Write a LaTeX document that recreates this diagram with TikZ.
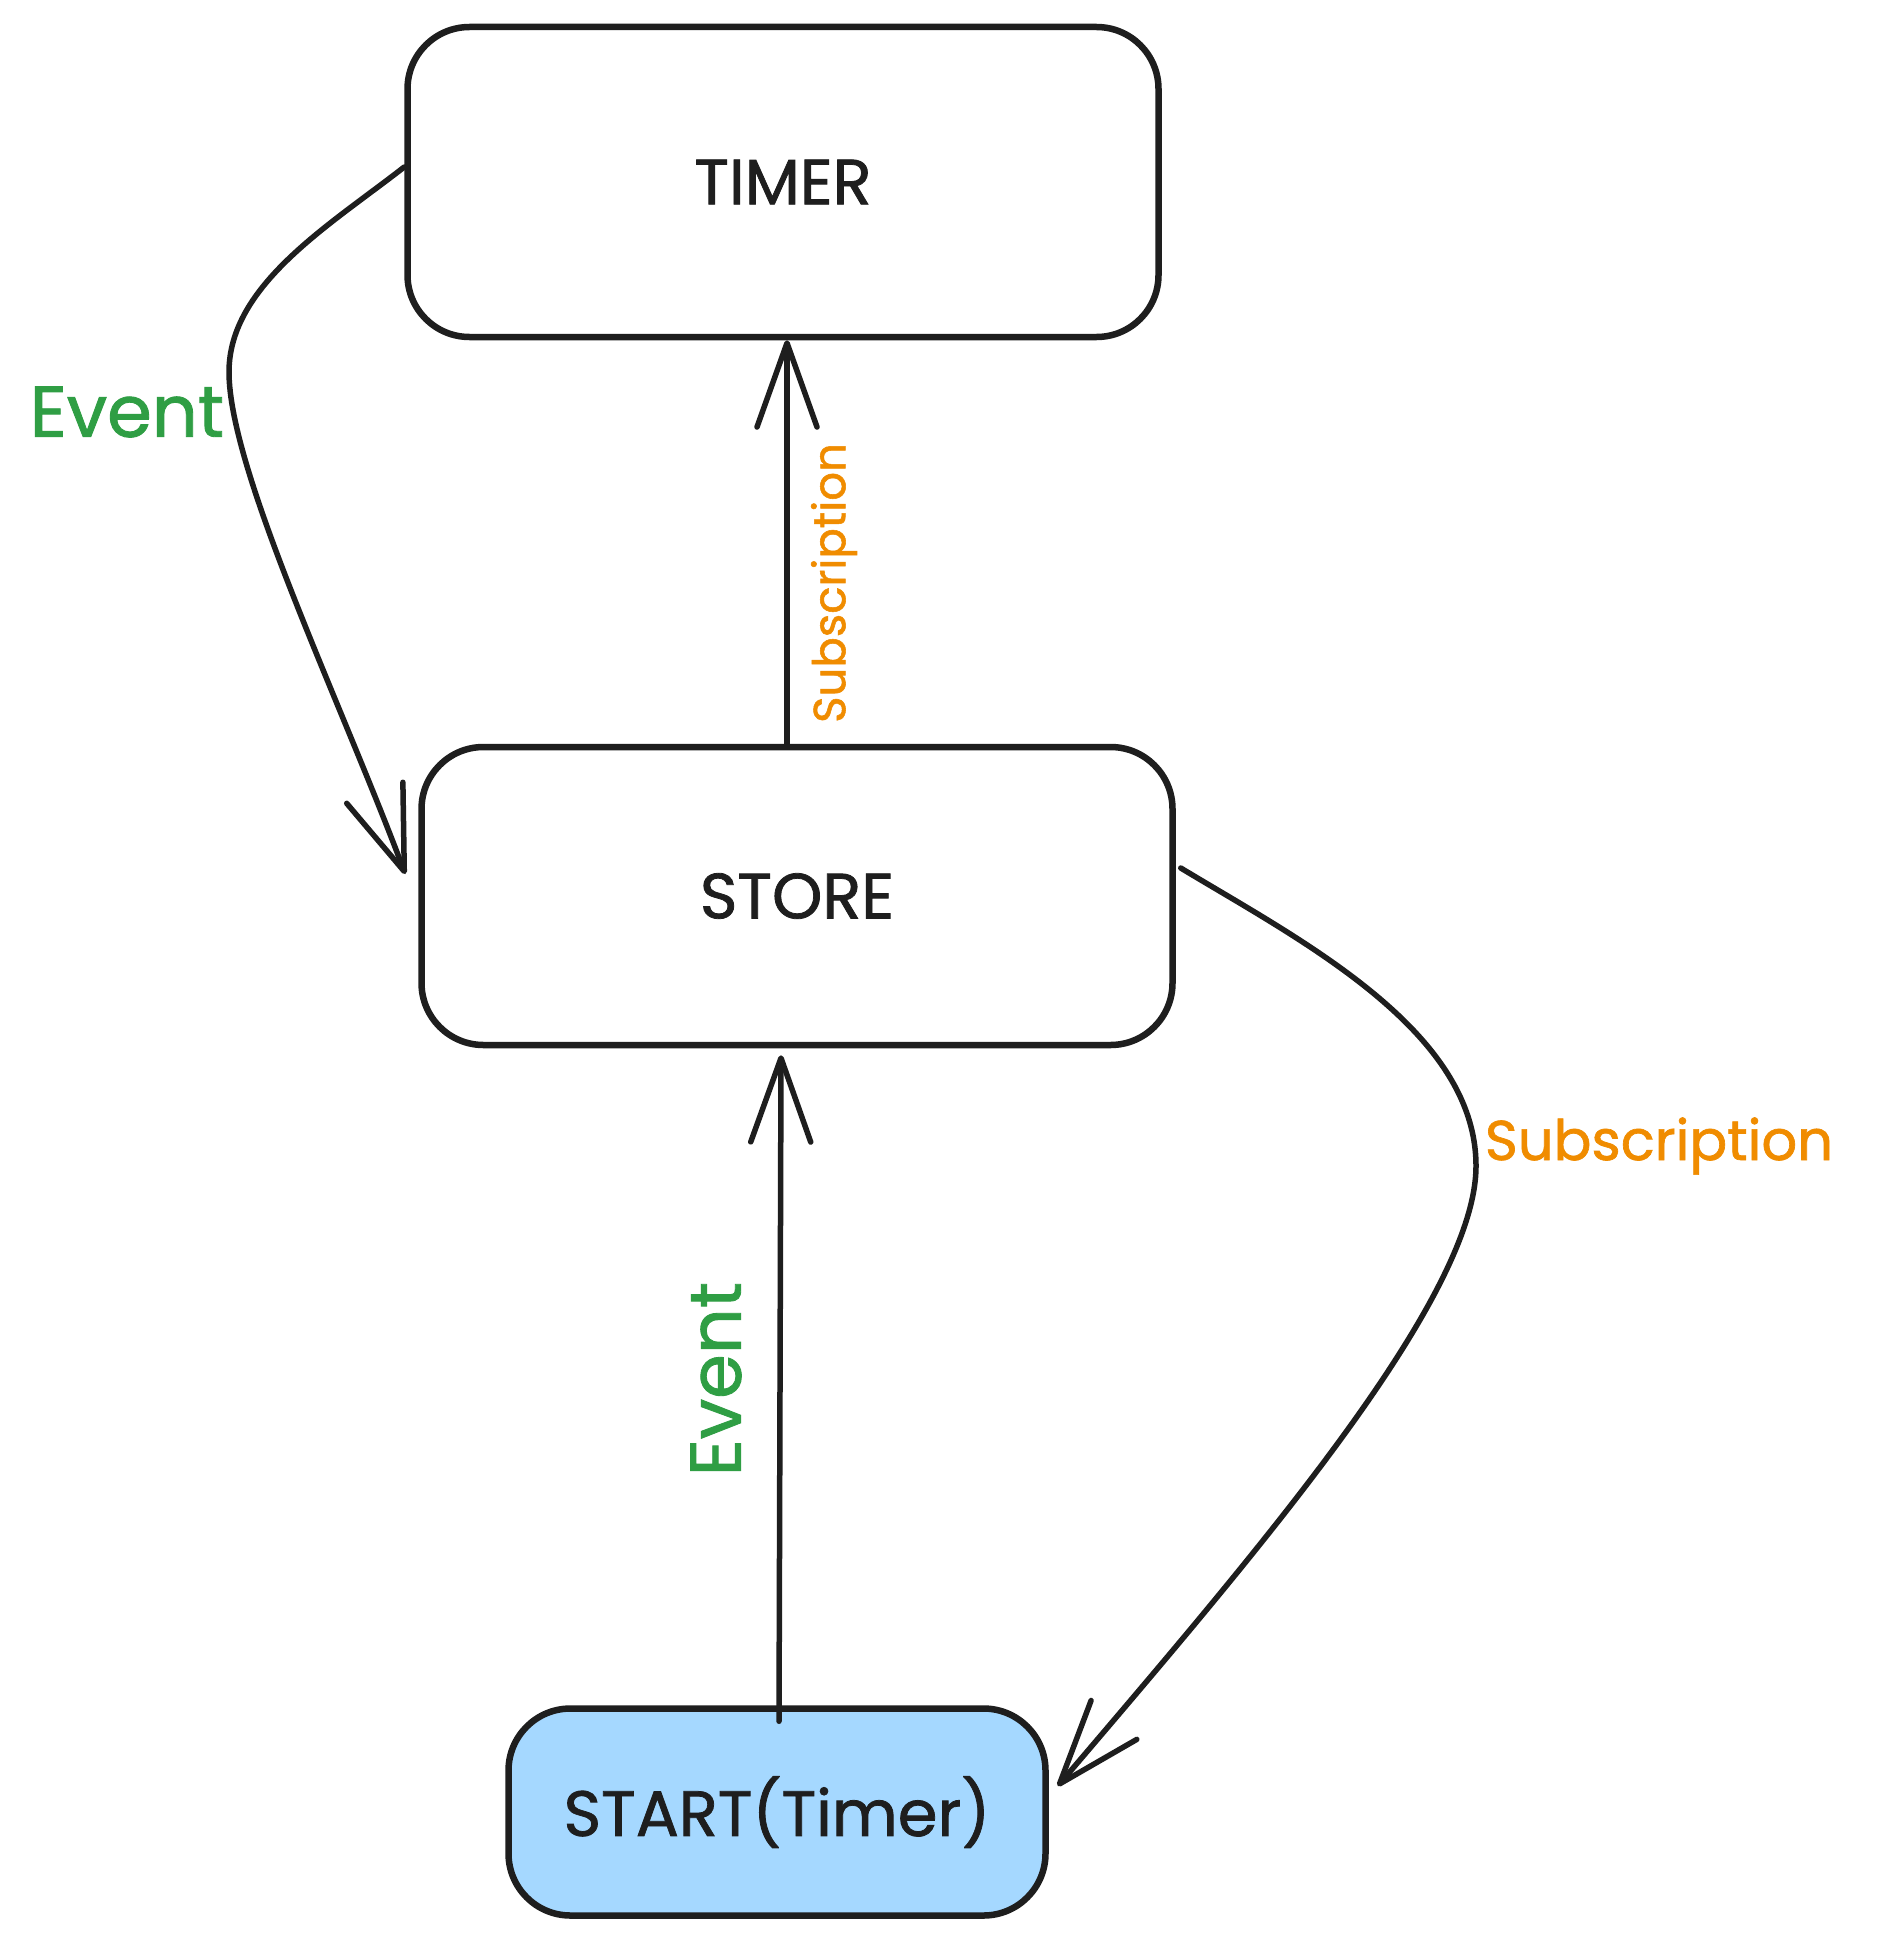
\documentclass[tikz,border=0pt]{standalone}
\usepackage{fontspec}
\setmainfont{Poppins}[FakeBold=1.2]
\usetikzlibrary{arrows.meta}
\definecolor{ink}{HTML}{1E1E1E}
\definecolor{evgreen}{HTML}{2F9E44}
\definecolor{suborange}{HTML}{F08C00}
\definecolor{startblue}{HTML}{A5D8FF}
\begin{document}
\begin{tikzpicture}[x=1pt,y=-1pt,
  box/.style={draw=ink, line width=6.5pt, rounded corners=62pt, text=ink,
    font=\fontsize{64}{70}\selectfont, inner sep=0pt},
  conn/.style={draw=ink, line width=5.5pt, line cap=round,
    -{Straight Barb[length=84pt,width=60pt,round]}},
  evlabel/.style={text=evgreen, font=\fontsize{72}{80}\selectfont, inner sep=0pt},
  sublabel/.style={text=suborange, inner sep=0pt}]
\fill[white] (0,0) rectangle (1890,1945);
\useasboundingbox (0,0) rectangle (1890,1945);

\node[box, minimum width=751pt, minimum height=310pt] (timer) at (783,182) {TIMER};
\node[box, minimum width=751pt, minimum height=298pt] (store) at (797,896) {STORE};
\node[box, fill=startblue, minimum width=537pt, minimum height=207pt] (start) at (777,1812) {START(Timer)};

% STORE -> TIMER (Subscription)
\draw[conn] ([xshift=-10pt]store.north) -- ([xshift=4pt]timer.south);
\node[sublabel, rotate=90, font=\fontsize{45}{50}\selectfont] (sub1) at (834,583) {Subscription};

% START -> STORE (Event)
\draw[conn] ([xshift=2pt,yshift=-16pt]start.north) -- ([xshift=-16pt,yshift=-7pt]store.south);
\node[evlabel, rotate=90] (ev2) at (716,1379) {Event};

% TIMER -> STORE (Event, left curve)
\draw[conn] ([yshift=15pt]timer.west) .. controls (330,225) and (229,285) .. (229,372)
  .. controls (229,470) and (340,700) .. ([xshift=-13pt,yshift=22pt]store.west);
\node[evlabel] (ev1) at (127,412) {Event};

% STORE -> START (Subscription, right curve)
\draw[conn] ([xshift=5pt,yshift=28pt]store.east) .. controls (1300,940) and (1476,1030) .. (1476,1166)
  .. controls (1476,1300) and (1250,1560) .. ([xshift=9pt,yshift=26pt]start.east);
\node[sublabel, font=\fontsize{56}{62}\selectfont] (sub2) at (1659,1146) {Subscription};
\end{tikzpicture}
\end{document}
